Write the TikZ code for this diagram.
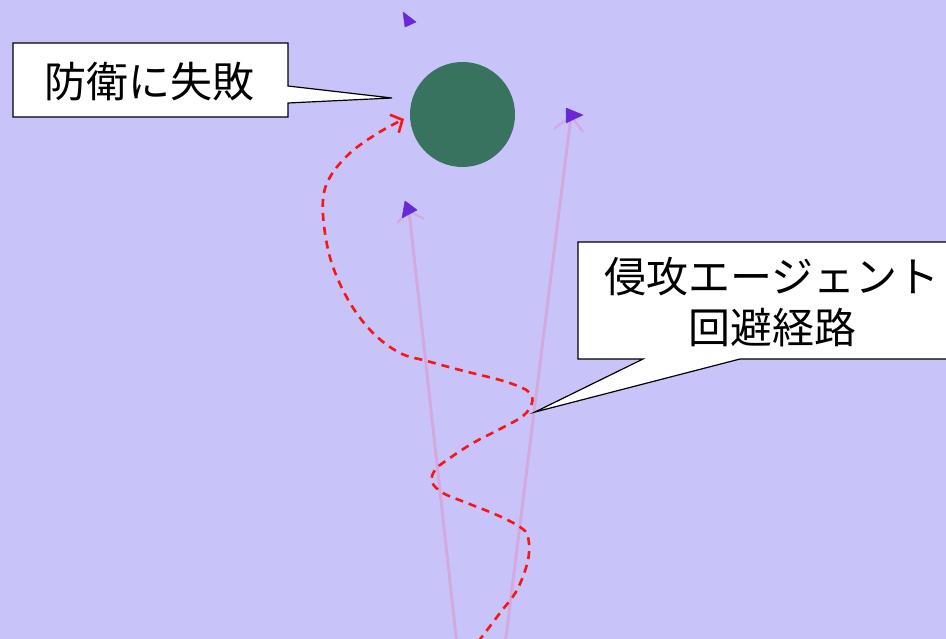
\documentclass[tikz,border=0pt]{standalone}
\usepackage{fontspec}
\newfontfamily\jpfont{Noto Sans CJK JP}
\usetikzlibrary{arrows.meta}
\definecolor{bgc}{RGB}{200,196,250}
\definecolor{orb}{RGB}{55,115,95}
\definecolor{trail}{RGB}{212,170,222}
\definecolor{agent}{RGB}{105,40,215}
\definecolor{pathred}{RGB}{250,20,20}
\tikzset{
  bubble/.style={draw=black, line width=1.2pt, fill=white},
  bubbletext/.style={font=\jpfont\fontsize{42}{51}\selectfont, align=center, inner sep=0pt},
  trailline/.style={draw=trail, line width=3pt},
  wing/.style={draw=trail, line width=2.2pt},
  agentmark/.style={fill=agent, draw=agent, line width=0.5pt, line join=round},
  escape/.style={draw=pathred, line width=2.6pt, dash pattern=on 8pt off 6pt, -{Straight Barb[length=9pt,width=20pt,line width=2.6pt]}}
}
\begin{document}
\begin{tikzpicture}[x=1pt,y=-1pt]
\useasboundingbox (0,0) rectangle (946,639);
\fill[bgc] (0,0) rectangle (946,639);
\begin{scope}
\clip (0,0) rectangle (946,639);
% defender
\node[circle, fill=orb, minimum size=105pt, inner sep=0pt] (def) at (462.5,114.5) {};
% agents
\coordinate (a1) at (409,211);
\coordinate (a2) at (571,116);
\coordinate (a3) at (409,19);
\coordinate (s1) at (457,645);
\coordinate (s2) at (505,645);
\draw[trailline] (s1) -- (a1);
\draw[trailline] (s2) -- (a2);
\draw[wing] (397,223) -- (a1) -- (424,219);
\draw[wing] (554,129) -- (a2) -- (583,132);
\fill[agentmark] (405,201) -- (417,210) -- (402,218) -- cycle;
\fill[agentmark] (566,108) -- (583,115) -- (566,123) -- cycle;
\fill[agentmark] (403,12) -- (416,22) -- (405,27) -- cycle;
% escape path
\coordinate (pend) at (404,119);
\draw[escape] plot[smooth, tension=0.6] coordinates {(478,642) (500,613) (517,590) (528,560) (528,537) (520,527) (497,515) (467,503) (443,493) (432,482) (435,470) (447,460) (473,443) (500,429) (523,416) (532,403) (530,393) (520,387) (500,380) (460,370) (427,361) (400,353) (373,333) (350,303) (333,267) (325,233) (323,200) (330,177) (350,153) (378,133) (pend)};
% callout 1
\draw[bubble] (13,43) -- (288,43) -- (288,86) -- (392,98) -- (288,103) -- (288,117) -- (13,117) -- cycle;
\node[bubbletext] (t1) at (150,82) {防衛に失敗};
% callout 2
\draw[bubble] (578,242) -- (960,242) -- (960,359) -- (740,359) -- (535,412) -- (643,359) -- (578,359) -- cycle;
\node[bubbletext] (t2) at (772,302) {侵攻エージェント\\回避経路};
\end{scope}
\end{tikzpicture}
\end{document}
